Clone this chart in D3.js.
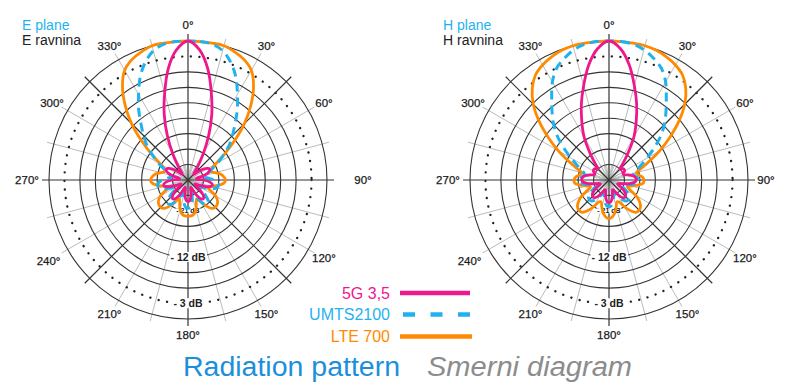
<!DOCTYPE html>
<html>
<head>
<meta charset="utf-8">
<script src="https://cdn.jsdelivr.net/npm/d3@7"></script>
<style>
  body{margin:0;background:#fff;}
  svg{display:block;font-family:"Liberation Sans",Arial,Helvetica,sans-serif;}
</style>
</head>
<body>
<div id="canvas"></div>
<script>
// sampling angles, degrees clockwise from top (0..355 step 5)
var angles = d3.range(0,360,5);

// E plane (dB)
var ePink = [0,-1.6,-5,-9.5,-13.5,-17.5,-21,-23.5,-25,-25.5,
  -24.5,-23.2,-22.5,-22.3,-22.8,-24,-25.3,-25.3,-24,-22.8,
  -22.2,-22.3,-23.2,-24.5,-25.5,-25.3,-24,-22.8,-22.3,-22.5,
  -23.5,-25,-25.5,-25,-23.8,-23,-22.8,-23,-23.8,-25,
  -25.5,-25,-23.5,-22.5,-22.3,-22.8,-24,-25.3,-25.5,-24.5,
  -23.2,-22.3,-22.2,-22.8,-24,-25.3,-25.3,-24,-22.8,-22.3,
  -22.5,-23.2,-24.5,-25.5,-25,-23.5,-21,-17.5,-13.5,-9.5,
  -5,-1.6];
var eBlue = [0,0,-0.2,-1,-2.7,-5,-7.8,-10.3,-12.8,-14.8,
  -16.6,-18.6,-20.3,-21.8,-22.8,-23.5,-23.8,-23,-22,-21.3,
  -21,-21.2,-22,-23.3,-24.3,-24,-22.8,-21.5,-21,-21.2,
  -22.2,-23.5,-24.2,-23.8,-22.5,-21.7,-21.5,-21.7,-22.5,-23.8,
  -24.2,-23.5,-22.2,-21.2,-21,-21.5,-22.8,-24,-24.3,-23.3,
  -22,-21.2,-21,-21.3,-22,-23,-23.8,-23.5,-22.8,-21.8,
  -20.3,-18.6,-16.6,-14.8,-12.8,-10.3,-7.8,-5,-2.7,-1,
  -0.2,0];
var eOrange = [0,0,0,0,-0.5,-1.2,-2.4,-4.8,-8,-11.5,
  -15.3,-18.5,-20.8,-22,-22.2,-21.5,-20.5,-20,-19.7,-20,
  -21,-22.3,-23,-22.2,-20.8,-20,-19.6,-19.5,-19.8,-20.8,
  -22.2,-23,-22.3,-21,-20.3,-20,-20,-20,-20.3,-21,
  -22.3,-23,-22.2,-20.8,-19.8,-19.5,-19.6,-20,-20.8,-22.2,
  -23,-22.3,-21,-20,-19.7,-20,-20.5,-21.5,-22.2,-22,
  -20.8,-18.5,-15.3,-11.5,-8,-4.8,-2.4,-1.2,-0.5,0,
  0,0];

// H plane (dB)
var hPink = [0,-1.4,-4.3,-8,-11.3,-14.5,-17.3,-20.5,-22.8,-24,
  -23.6,-23.4,-23.5,-24,-24,-23.2,-22.3,-21.8,-21.7,-22,
  -23,-24.2,-25,-25.2,-24.5,-23.5,-22.8,-22.5,-22.5,-23,
  -24,-24.8,-25,-24.5,-23.5,-22.8,-22.6,-22.8,-23.5,-24.5,
  -25,-24.8,-24,-23,-22.5,-22.5,-22.8,-23.5,-24.5,-25.2,
  -25,-24.2,-23,-22,-21.7,-21.8,-22.3,-23.2,-24,-24,
  -23.5,-23.4,-23.6,-24,-22.8,-20.5,-17.3,-14.5,-11.3,-8,
  -4.3,-1.4];
var hBlue = [0,0,-0.2,-0.8,-1.8,-3,-5,-7.6,-9.8,-11.8,
  -14,-16.4,-18.5,-20.1,-21.3,-22,-22,-21.5,-21.2,-21.3,
  -22.3,-23.5,-24.3,-24.3,-23.5,-22.4,-21.8,-21.6,-21.7,-22.3,
  -23.3,-24,-24.2,-23.6,-22.6,-22,-21.8,-22,-22.6,-23.6,
  -24.2,-24,-23.3,-22.3,-21.7,-21.6,-21.8,-22.4,-23.5,-24.3,
  -24.3,-23.5,-22.3,-21.3,-21.2,-21.5,-22,-22,-21.3,-20.1,
  -18.5,-16.4,-14,-11.8,-9.8,-7.6,-5,-3,-1.8,-0.8,
  -0.2,0];
var hOrange = [0,0,0,0,-0.2,-0.6,-1.2,-2.1,-3.8,-6.2,
  -9.3,-12.6,-15.6,-18.3,-20.3,-21.5,-21.2,-20.5,-20.2,-20.3,
  -21.3,-22.5,-23.2,-22.5,-21,-19.8,-19,-18.7,-18.8,-19.7,
  -21,-22.3,-22.5,-21.6,-20.5,-19.8,-19.5,-19.8,-20.5,-21.6,
  -22.5,-22.3,-21,-19.7,-18.8,-18.7,-19,-19.8,-21,-22.5,
  -23.2,-22.5,-21.3,-20.3,-20.2,-20.5,-21.2,-21.5,-20.3,-18.3,
  -15.6,-12.6,-9.3,-6.2,-3.8,-2.1,-1.2,-0.6,-0.2,0,
  0,0];

// grid / labels
var ringDb = [-24,-21,-18,-15,-12,-9,-6,-3,0];
var dbLabelDb = [-3,-12,-21];
var dbLabelText = ['- 3 dB','- 12 dB','- 21 dB'];
var degLabels = [0,30,60,90,120,150,180,210,240,270,300,330];
var seriesNames = ['5G 3,5','UMTS2100','LTE 700'];
var seriesColors = ['#f0168c','#1fb2ef','#ff8a00'];

var W = 800, H = 384;
var svg = d3.select('#canvas').append('svg')
  .attr('width',W).attr('height',H);

var R = 139;
var scaleR = d3.scaleLinear().domain([-27,0]).range([0,R]);
var spokeLen = 146;
var rad = Math.PI/180;

function drawPolar(cx, cy, name1, name2, curves, labelR){
  var g = svg.append('g').attr('transform','translate('+cx+','+cy+')');

  //fine spokes in the middle
  g.selectAll('.fine').data(d3.range(0,360,10)).enter().append('line')
    .attr('x1',0).attr('y1',0)
    .attr('x2',function(d){return scaleR(-24)*Math.sin(d*rad);})
    .attr('y2',function(d){return -scaleR(-24)*Math.cos(d*rad);})
    .attr('stroke','#999').attr('stroke-width',0.6);

  //light spokes every 15 deg
  g.selectAll('.spoke').data(d3.range(0,360,15).filter(function(d){return d%45!==0;}))
    .enter().append('line')
    .attr('x1',0).attr('y1',0)
    .attr('x2',function(d){return spokeLen*Math.sin(d*rad);})
    .attr('y2',function(d){return -spokeLen*Math.cos(d*rad);})
    .attr('stroke','#aaa').attr('stroke-width',0.8);

  //rings
  g.selectAll('.ring').data(ringDb).enter().append('circle')
    .attr('r',function(d){return scaleR(d);})
    .attr('fill','none')
    .attr('stroke',function(d){return d===-3?'#222':'#333';})
    .attr('stroke-width',function(d){return d===-3?2.3:1.1;})
    .attr('stroke-linecap',function(d){return d===-3?'round':'butt';})
    .attr('stroke-dasharray',function(d){return d===-3?'0.1,8.5':null;});

  //dark spokes every 45 deg
  g.selectAll('.axis').data(d3.range(0,360,45)).enter().append('line')
    .attr('x1',0).attr('y1',0)
    .attr('x2',function(d){return spokeLen*Math.sin(d*rad);})
    .attr('y2',function(d){return -spokeLen*Math.cos(d*rad);})
    .attr('stroke','#333').attr('stroke-width',1.2);

  //dB labels with white box
  dbLabelDb.forEach(function(v,i){
    var small = v===-21;
    var t = g.append('text')
      .attr('x',0).attr('y',scaleR(v))
      .attr('dy','0.35em')
      .attr('text-anchor','middle')
      .attr('font-size',small?7:10.5)
      .attr('font-weight','bold')
      .attr('fill','#222')
      .text(dbLabelText[i]);
    var bb = t.node().getBBox();
    g.insert('rect','text:last-of-type')
      .attr('x',bb.x-1).attr('y',bb.y+1)
      .attr('width',bb.width+2).attr('height',bb.height-2)
      .attr('fill','#fff');
  });

  //curves
  var line = d3.lineRadial()
    .angle(function(d,i){return angles[i]*rad;})
    .radius(function(d){return scaleR(d);})
    .curve(d3.curveCatmullRomClosed.alpha(0.5));

  curves.forEach(function(c){
    g.append('path')
      .attr('d',line(c.values))
      .attr('fill','none')
      .attr('stroke',c.color)
      .attr('stroke-width',c.width)
      .attr('stroke-dasharray',c.dash)
      .attr('stroke-linejoin','round');
  });

  //degree labels
  g.selectAll('.deg').data(degLabels).enter().append('text')
    .attr('x',function(d){return (labelR[d]||157)*Math.sin(d*rad);})
    .attr('y',function(d){return -(labelR[d]||155)*Math.cos(d*rad);})
    .attr('dy','0.35em')
    .attr('text-anchor','middle')
    .attr('font-size',11.5)
    .attr('fill','#1a1a1a')
    .attr('stroke','#1a1a1a').attr('stroke-width',0.25)
    .text(function(d){return d+'°';});

  //plane names
  svg.append('text').attr('x',cx-166).attr('y',30)
    .attr('font-size',14).attr('fill','#1fb2ef').text(name1);
  svg.append('text').attr('x',cx-166).attr('y',45)
    .attr('font-size',14).attr('fill','#222').text(name2);
}

function seriesFor(a,b,c){
  return [
    {values:c, color:seriesColors[2], width:2.8, dash:null},
    {values:b, color:seriesColors[1], width:3, dash:'9,6'},
    {values:a, color:seriesColors[0], width:2.8, dash:null}
  ];
}

drawPolar(188,180,'E plane','E ravnina',seriesFor(ePink,eBlue,eOrange),{90:175,270:161,240:161});
drawPolar(609,180,'H plane','H ravnina',seriesFor(hPink,hBlue,hOrange),{90:157,270:161,240:161});

//legend
var legY = [293,314.5,336.5];
var leg = svg.append('g');
seriesNames.forEach(function(n,i){
  leg.append('text')
    .attr('x',390).attr('y',legY[i]).attr('dy','0.35em')
    .attr('text-anchor','end')
    .attr('font-size',16)
    .attr('fill',seriesColors[i])
    .text(n);
  leg.append('line')
    .attr('x1',i===1?403:400).attr('x2',i===2?472:470)
    .attr('y1',legY[i]).attr('y2',legY[i])
    .attr('stroke',seriesColors[i])
    .attr('stroke-width',4.5)
    .attr('stroke-dasharray',i===1?'12,15.5':null);
});

//title
svg.append('text')
  .attr('x',183).attr('y',376)
  .attr('font-size',27)
  .attr('fill','#1c8fdc')
  .attr('textLength',217).attr('lengthAdjust','spacingAndGlyphs')
  .text('Radiation pattern');
svg.append('text')
  .attr('x',427).attr('y',376)
  .attr('font-size',27)
  .attr('font-style','italic')
  .attr('fill','#8c8c8c')
  .attr('textLength',205).attr('lengthAdjust','spacingAndGlyphs')
  .text('Smerni diagram');
</script>
</body>
</html>
